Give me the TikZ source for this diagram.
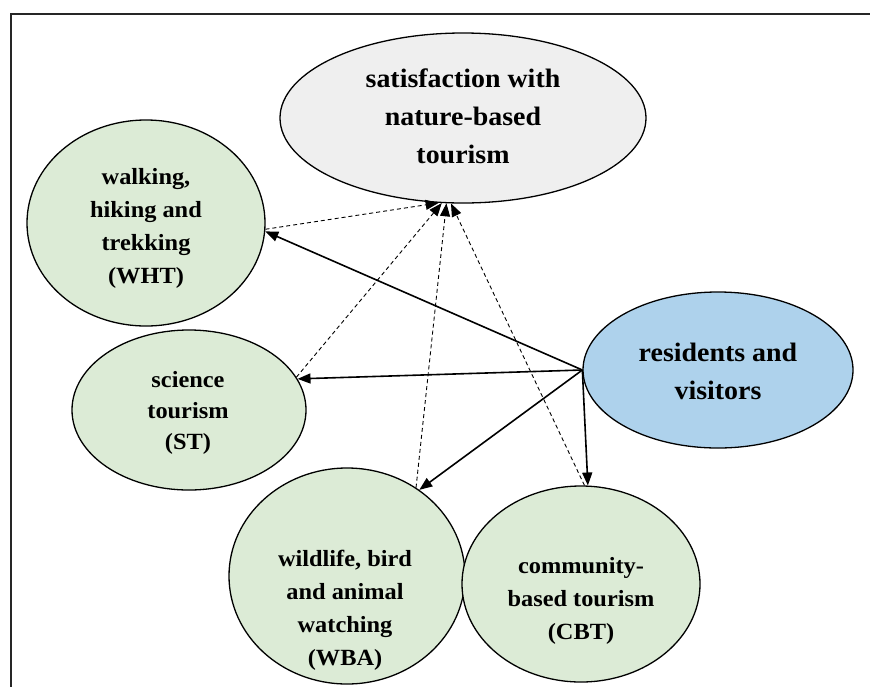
\documentclass[tikz,border=0pt]{standalone}
\usepackage{fontspec}
\setmainfont{Liberation Serif}[FakeStretch=1.05]
\usetikzlibrary{arrows.meta,shapes.geometric}
\definecolor{gfill}{RGB}{220,235,214}
\definecolor{bfill}{RGB}{174,210,236}
\definecolor{sfill}{RGB}{239,239,239}
\begin{document}
\begin{tikzpicture}[x=1pt,y=-1pt,
 ell/.style={ellipse, draw=black, line width=1.3pt, inner sep=0pt},
 txt/.style={align=center, font=\bfseries\fontsize{23.2}{33}\selectfont},
 big/.style={align=center, font=\bfseries\fontsize{26.6}{38}\selectfont},
 solidarrow/.style={line width=1.6pt, -{Triangle[length=13pt,width=10pt]}},
 dasharrow/.style={line width=0.9pt, dash pattern=on 4pt off 3pt, -{Triangle[length=13pt,width=10pt]}}]
\useasboundingbox (0,0) rectangle (870,686);
\draw[line width=1.3pt, draw=black!85] (11,14) rectangle (900,720);

\node[ell, fill=sfill, minimum width=366pt, minimum height=170pt] (sat) at (463,118) {};
\node[big] (satl) at (463,116) {satisfaction with\\nature-based\\tourism};

\node[ell, fill=gfill, minimum width=238pt, minimum height=206pt] (wht) at (146,223) {};
\node[txt] (whtl) at (146,228) {walking,\\hiking and\\trekking\\(WHT)};

\node[ell, fill=gfill, minimum width=234pt, minimum height=160pt] (st) at (189,410) {};
\node[txt, font=\bfseries\fontsize{23.2}{31}\selectfont] (stl) at (188,413) {science\\tourism\\(ST)};

\node[ell, fill=gfill, minimum width=236pt, minimum height=216pt] (wba) at (347,576) {};
\node[txt] (wbal) at (345,610) {wildlife, bird\\and animal\\watching\\(WBA)};

\node[ell, fill=gfill, minimum width=238pt, minimum height=196pt] (cbt) at (581,584) {};
\node[txt] (cbtl) at (581,601) {community-\\based tourism\\(CBT)};

\node[ell, fill=bfill, minimum width=270pt, minimum height=156pt] (res) at (718,370) {};
\node[big] (resl) at (718,371) {residents and\\visitors};

\draw[solidarrow] (res.west) -- (wht.-4);
\draw[solidarrow] (res.west) -- (st.16);
\draw[solidarrow] (res.west) -- (wba.50);
\draw[solidarrow] (res.west) -- (cbt.86.5);

\draw[dasharrow] (wht.-3) -- (sat.-106);
\draw[dasharrow] (st.17) -- (sat.-104.5);
\draw[dasharrow] (wba.52) -- (sat.-101.5);
\draw[dasharrow] (cbt.88) -- (sat.-98.5);
\end{tikzpicture}
\end{document}
